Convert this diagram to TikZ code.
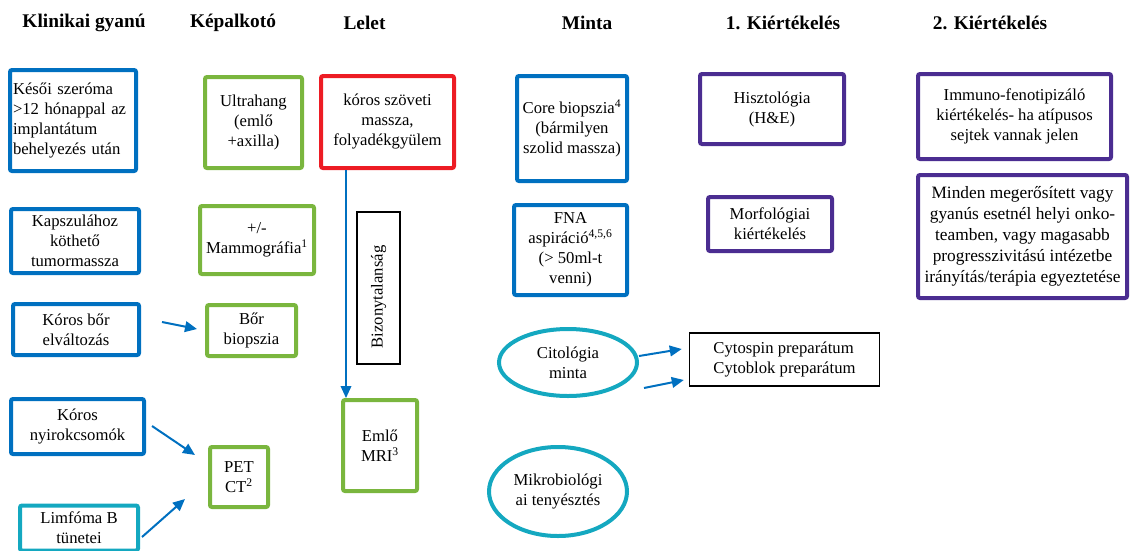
\documentclass[tikz,border=0pt]{standalone}
\usepackage{fontspec}
\setmainfont{Liberation Serif}
\usetikzlibrary{arrows.meta,calc,shapes.geometric}
\definecolor{cblue}{RGB}{0,112,192}
\definecolor{cgreen}{RGB}{122,182,62}
\definecolor{cred}{RGB}{237,28,36}
\definecolor{cpurple}{RGB}{75,45,145}
\definecolor{cteal}{RGB}{20,168,192}
\begin{document}
\begin{tikzpicture}[x=0.75pt,y=-0.75pt,
  font=\fontsize{12.5}{15}\selectfont,
  box/.style={draw,line width=3pt,rounded corners=1.5pt,align=center,inner sep=2pt},
  bluebox/.style={box,draw=cblue},
  greenbox/.style={box,draw=cgreen},
  redbox/.style={box,draw=cred},
  purplebox/.style={box,draw=cpurple},
  tealbox/.style={box,draw=cteal},
  thinbox/.style={draw=black,line width=1.1pt,align=center,inner sep=2pt},
  oval/.style={ellipse,draw=cteal,line width=3pt,align=center,inner sep=0pt},
  hdr/.style={font=\fontsize{14.5}{17}\selectfont\bfseries},
  arr/.style={draw=cblue,line width=1.5pt,-{Triangle[length=9pt,width=8pt]}},
  vline/.style={draw=cblue,line width=1.1pt,-{Triangle[length=9pt,width=8pt]}},
]
\useasboundingbox (0,0) rectangle (1130,550);

% headers
\node[hdr] (h1) at (84,23) {Klinikai gyanú};
\node[hdr] (h2) at (233,23) {Képalkotó};
\node[hdr] (h3) at (364.5,23) {Lelet};
\node[hdr] (h4) at (587,23) {Minta};
\node[hdr] (h5) at (783,23) {1. Kiértékelés};
\node[hdr] (h6) at (990,23) {2. Kiértékelés};

% column 1
\node[bluebox,minimum width=94.5pt,minimum height=75.75pt,text width=90pt,align=left] (kesoi) at (73,120.5)
  {Késői szeróma\\\makebox[\linewidth][s]{>12 hónappal az}\\implantátum\\behelyezés után};
\node[bluebox,minimum width=96pt,minimum height=48pt] (kapsz) at (75,241) {Kapszulához\\köthető\\tumormassza};
\node[bluebox,minimum width=94.5pt,minimum height=38.25pt] (bor) at (76,329.5) {Kóros bőr\\elváltozás};
\node[bluebox,minimum width=99.75pt,minimum height=41.25pt] (nyirok) at (77.5,426.5) {Kóros\\nyirokcsomók};
\node[tealbox,minimum width=88.5pt,minimum height=33.75pt] (limfoma) at (79,528) {Limfóma B\\tünetei};

% column 2
\node[greenbox,minimum width=72.75pt,minimum height=68.25pt] (ultra) at (253.5,122.5) {Ultrahang\\(emlő\\+axilla)};
\node[greenbox,minimum width=85.5pt,minimum height=51pt] (mammo) at (257,240) {+/-\\Mammográfia\textsuperscript{1}};
\node[greenbox,minimum width=66.75pt,minimum height=38.25pt] (borbiop) at (251.5,330.5) {Bőr\\biopszia};
\node[greenbox,minimum width=43.5pt,minimum height=45pt] (pet) at (239,477) {PET\\CT\textsuperscript{2}};

% column 3
\node[redbox,minimum width=99.75pt,minimum height=69pt] (red) at (387.5,122) {kóros szöveti\\massza,\\folyadékgyülem};
\node[thinbox,rotate=90,minimum width=114pt,minimum height=32.25pt] (bizony) at (378.5,288) {Bizonytalanság\hspace*{13.5pt}};
\node[greenbox,minimum width=55.5pt,minimum height=68.25pt] (mri) at (380,445.5) {Emlő\\MRI\textsuperscript{3}};

% column 4
\node[bluebox,minimum width=82.5pt,minimum height=78.75pt] (core) at (572,128.5) {Core biopszia\textsuperscript{4}\\(bármilyen\\szolid massza)};
\node[bluebox,minimum width=84.75pt,minimum height=67.5pt] (fna) at (570.5,250) {FNA\\aspiráció\textsuperscript{4,5,6}\\(> 50ml-t\\venni)};
\node[oval,minimum width=103.5pt,minimum height=50.25pt] (cito) at (568,362.5) {Citológia\\minta};
\node[oval,minimum width=103.5pt,minimum height=66.75pt] (mikro) at (558,491.5) {Mikrobiológi\\ai tenyésztés};

% column 5
\node[thinbox,minimum width=142.5pt,minimum height=40pt,align=left] (cyto) at (784.5,359.5) {Cytospin preparátum\\Cytoblok preparátum};
\node[purplebox,minimum width=108pt,minimum height=52.5pt] (hiszto) at (772,109) {Hisztológia\\(H\&E)};
\node[purplebox,minimum width=93pt,minimum height=40.5pt] (morfo) at (770,224) {Morfológiai\\kiértékelés};

% column 6
\node[purplebox,minimum width=144.75pt,minimum height=63.75pt] (immuno) at (1014.5,116.5) {Immuno-fenotipizáló\\kiértékelés- ha atípusos\\sejtek vannak jelen};
\node[purplebox,minimum width=156.75pt,minimum height=92.25pt,font=\fontsize{13}{15.8}\selectfont] (minden) at (1022.5,236.5) {Minden megerősített vagy\\gyanús esetnél helyi onko-\\teamben, vagy magasabb\\progresszivitású intézetbe\\irányítás/terápia egyeztetése};

% connectors
\draw[arr] ($(bor.east)+(21,-7.5)$) -- ($(borbiop.west)+(-8,-1.5)$);
\draw[arr] ($(nyirok.east)+(6,-0.5)$) -- ($(pet.west)+(-13,-22)$);
\draw[arr] ($(limfoma.east)+(2,9)$) -- ($(pet.west)+(-23,22)$);
\draw[vline] ($(red.south)+(-41.5,0)$) -- ($(mri.north)+(-34,0)$);
\draw[arr] ($(cito.east)+(0,-6.5)$) -- ($(cyto.west)+(-7,-10.5)$);
\draw[arr] ($(cito.east)+(5,25.5)$) -- ($(cyto.west)+(-5,20.5)$);
\end{tikzpicture}
\end{document}
